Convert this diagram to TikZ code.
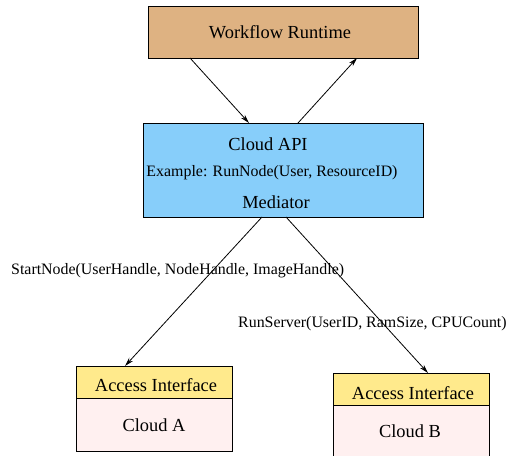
\documentclass[tikz,border=0pt]{standalone}
\usepackage{fontspec}
\setmainfont{Liberation Serif}
\usetikzlibrary{arrows.meta,calc}
\definecolor{wfcol}{RGB}{222,178,130}
\definecolor{apicol}{RGB}{135,206,250}
\definecolor{hdrcol}{RGB}{255,234,140}
\definecolor{bodycol}{RGB}{255,240,240}
\tikzset{
  box/.style={draw=black, line width=0.9pt, inner sep=0pt, outer sep=0pt, anchor=north west},
  big/.style={font=\fontsize{18.4}{20}\selectfont, inner sep=0pt},
  small/.style={font=\fontsize{15.9}{18}\selectfont, inner sep=0pt},
  arr/.style={line width=0.8pt, -{Stealth[length=9pt,width=5pt]}}
}
\begin{document}
\begin{tikzpicture}[x=1pt,y=-1pt]
\useasboundingbox (0,0) rectangle (508,455);
\clip (0,0) rectangle (508,455);
\node[box, fill=wfcol, minimum width=270pt, minimum height=52pt] (wf) at (148,6) {};
\node[box, fill=apicol, minimum width=280pt, minimum height=94pt] (api) at (143,123) {};
\node[box, fill=hdrcol, minimum width=156pt, minimum height=32pt] (ahdr) at (76,366) {};
\node[box, fill=bodycol, minimum width=156pt, minimum height=53pt] (abody) at (76,398) {};
\node[box, fill=hdrcol, minimum width=156pt, minimum height=32pt] (bhdr) at (333,373) {};
\node[box, fill=bodycol, minimum width=156pt, minimum height=70pt] (bbody) at (333,405) {};

\node[big, anchor=base] (wft) at (280,38) {Workflow Runtime};
\node[big, anchor=base] (apit) at (268,150) {Cloud API};
\node[small, anchor=base] (ext) at (272,176) {Example: RunNode(User, ResourceID)};
\node[big, anchor=base] (medt) at (276,208) {Mediator};
\node[big, anchor=base] (aht) at (156,391) {Access Interface};
\node[big, anchor=base] (abt) at (154,431) {Cloud A};
\node[big, anchor=base] (bht) at (413,399) {Access Interface};
\node[big, anchor=base] (bbt) at (410,437) {Cloud B};

\draw[arr] ($(wf.south west)+(42,0)$) -- ($(api.north west)+(106,0)$);
\draw[arr] ($(api.north west)+(155,0)$) -- ($(wf.south west)+(209,0)$);
\draw[arr] ($(api.south west)+(119,0)$) -- ($(ahdr.north west)+(49,0)$);
\draw[arr] ($(api.south west)+(143,0)$) -- ($(bhdr.north west)+(95,0)$);

\node[small, anchor=base west] (lbla) at (11,274) {StartNode(UserHandle, NodeHandle, ImageHandle)};
\node[small, anchor=base west] (lblb) at (238,327) {RunServer(UserID, RamSize, CPUCount)};
\end{tikzpicture}
\end{document}
